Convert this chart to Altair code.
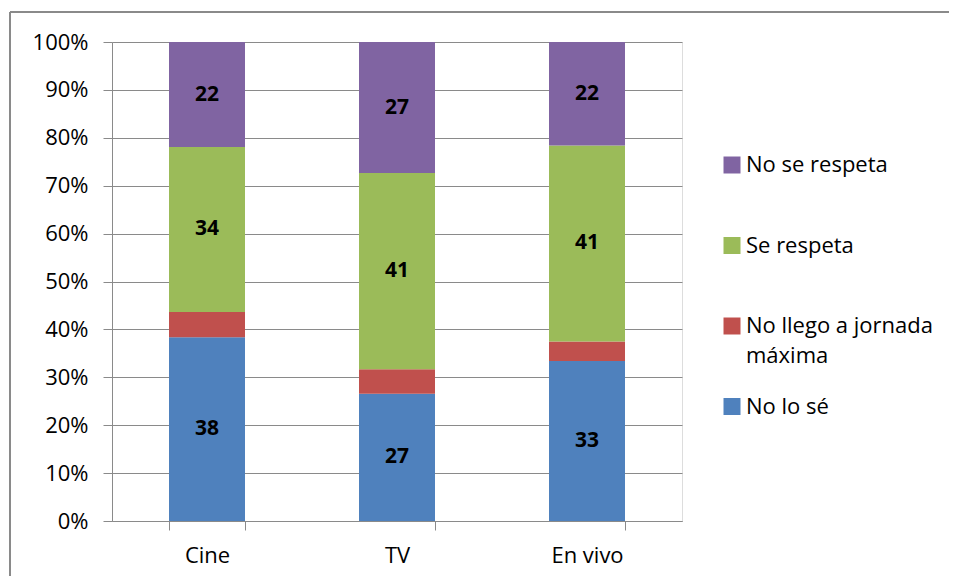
import altair as alt
import pandas as pd

categories = ["Cine", "TV", "En vivo"]
series = ["No lo sé", "No llego a jornada máxima", "Se respeta", "No se respeta"]
no_lo_se = [38.3, 26.6, 33.4]
no_llego = [5.3, 5.1, 4.1]
se_respeta = [34.4, 41.0, 40.9]
no_se_respeta = [21.9, 27.4, 21.6]
colors = ["#4F81BD", "#C0504D", "#9BBB59", "#8064A2"]
y_ticks = [0, 0.1, 0.2, 0.3, 0.4, 0.5, 0.6, 0.7, 0.8, 0.9, 1.0]
label_series = ["No lo sé", "Se respeta", "No se respeta"]

rows = []
for si, (name, vals) in enumerate(zip(series, [no_lo_se, no_llego, se_respeta, no_se_respeta])):
    for ci, cat in enumerate(categories):
        rows.append({"cat": cat, "serie": name, "value": vals[ci], "ord": si,
                     "show": name in label_series})
df = pd.DataFrame(rows)

FONT = "Open Sans"
GRAY = "#8a8a8a"

legend_domain = series[::-1]
legend_range = colors[::-1]

base = alt.Chart(df).transform_stack(
    stack="value", groupby=["cat"], as_=["y0", "y1"],
    sort=[alt.SortField("ord", order="ascending")], offset="normalize"
).transform_calculate(mid="(datum.y0 + datum.y1) / 2")

x_enc = alt.X("cat:N", sort=categories,
              scale=alt.Scale(paddingInner=0.6, paddingOuter=0.3),
              axis=alt.Axis(title=None, labelAngle=0, tickBand="extent", tickSize=9,
                            domainColor=GRAY, tickColor=GRAY, labelFont=FONT,
                            labelFontSize=22, labelColor="#000", labelPadding=15,
                            grid=False))

bars = base.mark_bar().encode(
    x=x_enc,
    y=alt.Y("y0:Q", scale=alt.Scale(domain=[0, 1]),
            axis=alt.Axis(title=None, values=y_ticks, format=".0%", grid=True,
                          gridColor=GRAY, domainColor=GRAY, tickColor=GRAY,
                          tickSize=9, labelFont=FONT, labelFontSize=22,
                          labelColor="#000", labelPadding=15)),
    y2="y1:Q",
    color=alt.Color("serie:N", scale=alt.Scale(domain=legend_domain, range=legend_range),
                    legend=alt.Legend(title=None, orient="none", legendX=609, legendY=112,
                                      symbolType="square", symbolSize=289,
                                      symbolStrokeWidth=0, labelFont=FONT,
                                      labelFontSize=22, labelColor="#000",
                                      labelOffset=3, rowPadding=28.5, gridAlign="all",
                                      labelLimit=400,
                                      labelExpr="datum.label == 'No llego a jornada máxima' ? ['No llego a jornada', 'máxima'] : datum.label")),
)

texts = base.transform_filter("datum.show").mark_text(
    font=FONT, fontSize=21, fontWeight="bold", color="#000"
).encode(
    x=alt.X("cat:N", sort=categories),
    y=alt.Y("mid:Q"),
    text=alt.Text("value:Q", format=".0f"),
)

frame = pd.DataFrame({"k": [0]})
border_top = alt.Chart(frame).mark_rule(stroke=GRAY, strokeWidth=2).encode(
    x=alt.value(-102), x2=alt.value(2000), y=alt.value(-30))
border_left = alt.Chart(frame).mark_rule(stroke=GRAY, strokeWidth=2).encode(
    x=alt.value(-102), y=alt.value(-30), y2=alt.value(1000))

chart = alt.layer(border_top, border_left, bars, texts).properties(
    width=570, height=479,
    autosize=alt.AutoSizeParams(type="none"),
    padding={"left": 104, "top": 34, "right": 267, "bottom": 55},
).configure_view(stroke=None).configure(style={"guide-label": {"lineHeight": 30}})

chart.save("out.html", embed_options={"renderer": "svg", "actions": False})
